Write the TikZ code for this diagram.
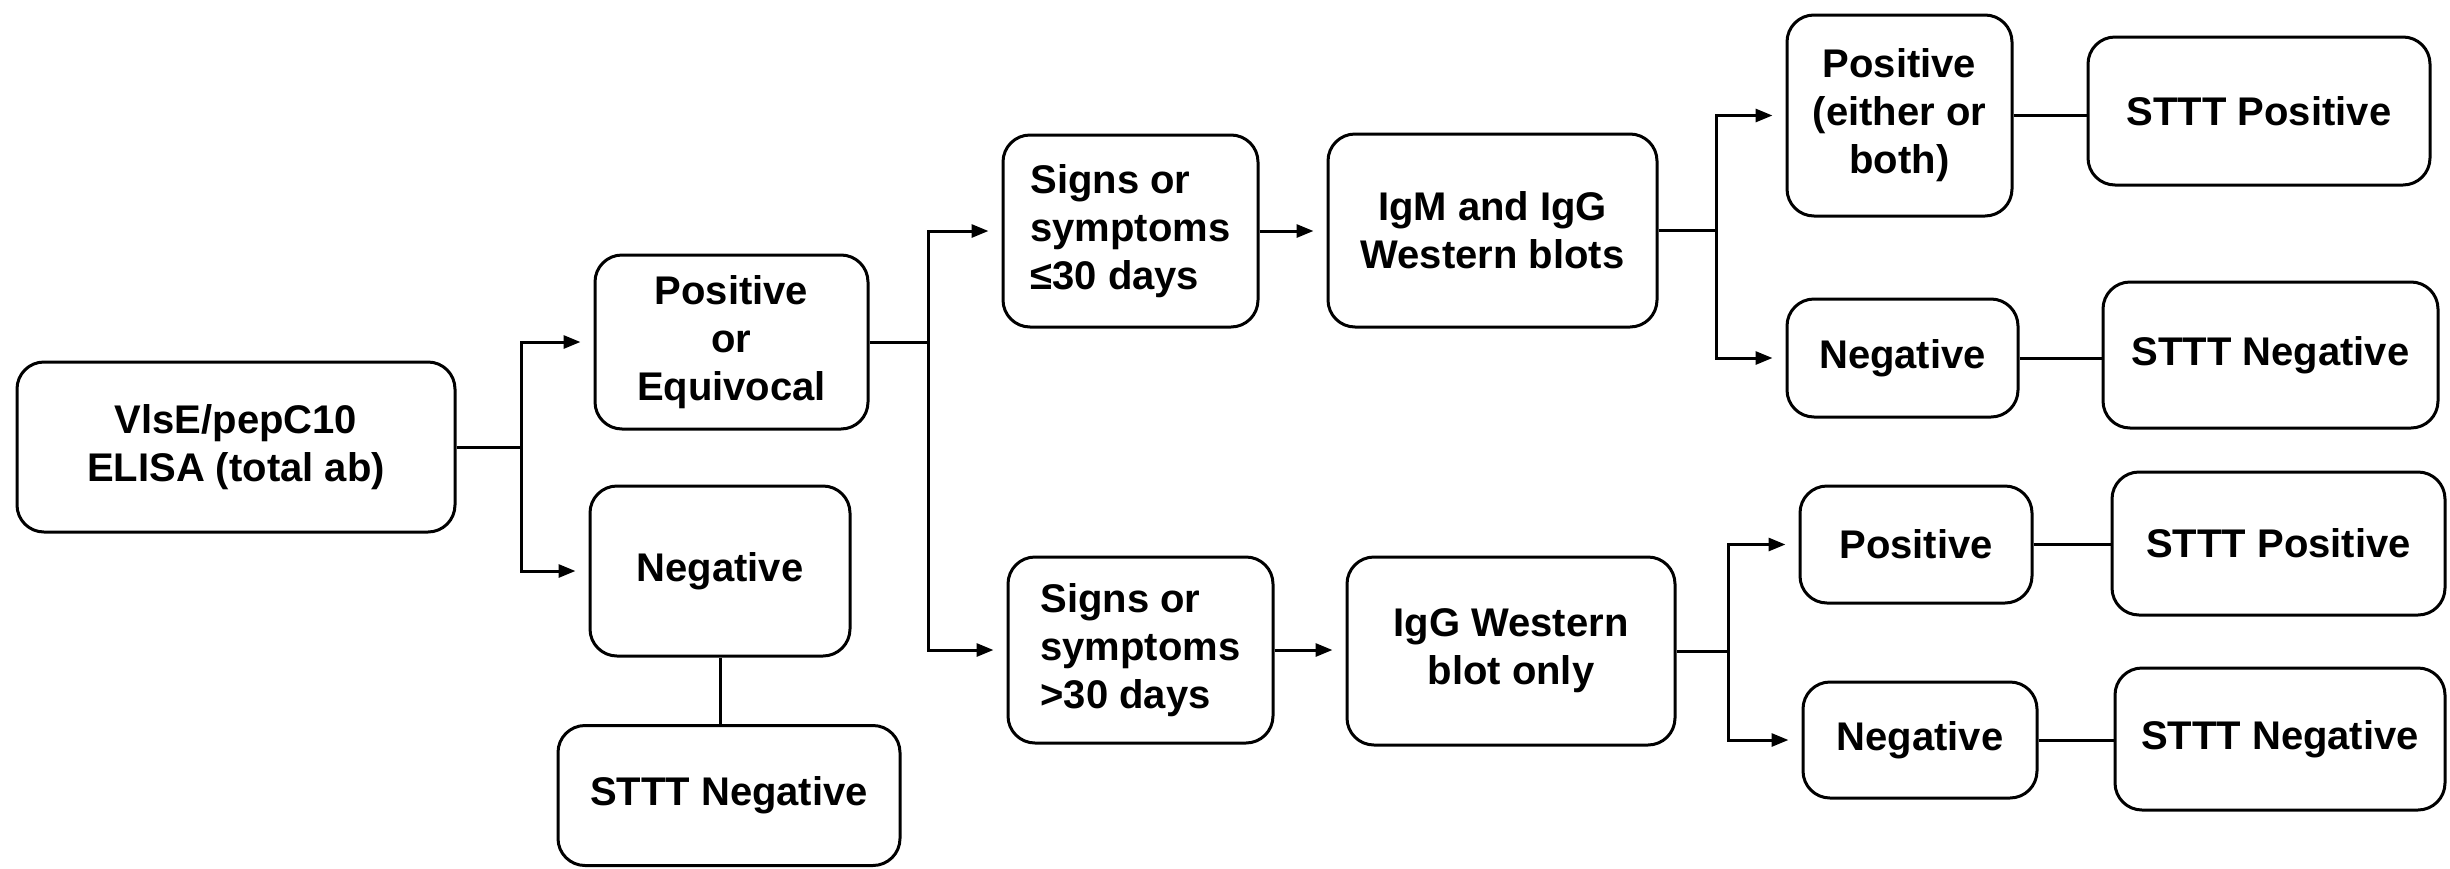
\documentclass[tikz,border=0pt]{standalone}
\usepackage{fontspec}
\setmainfont{Liberation Sans}
\usetikzlibrary{arrows.meta}
\begin{document}
\begin{tikzpicture}[x=1pt,y=-1pt,
  box/.style={draw, line width=3pt, rounded corners=27pt, align=center, inner sep=0pt,
    font=\fontsize{40}{48}\selectfont\bfseries},
  conn/.style={line width=3pt},
  arr/.style={conn, -{Triangle[length=17pt,width=13pt]}, shorten >=13pt},
]
\useasboundingbox (0,0) rectangle (2450,868);
% column 1
\node[box, minimum width=438pt, minimum height=170pt] (vlse) at (236,447) {VlsE/pepC10\\ELISA (total ab)};
% column 2
\node[box, minimum width=273pt, minimum height=174pt] (poseq) at (731.5,342) {Positive\\or\\Equivocal};
\node[box, minimum width=260pt, minimum height=170pt] (negL) at (720,571) {Negative};
\node[box, minimum width=342pt, minimum height=140pt] (sttnL) at (729,795.5) {STTT Negative};
% column 3
\node[box, align=left, minimum width=255pt, minimum height=192pt] (s30a) at (1130.5,231) {Signs or\\symptoms\\≤30 days};
\node[box, align=left, minimum width=265pt, minimum height=186pt] (s30b) at (1140.5,650) {Signs or\\symptoms\\>30 days};
% column 4
\node[box, minimum width=329pt, minimum height=193pt] (igmg) at (1492.5,230.5) {IgM and IgG\\Western blots};
\node[box, minimum width=328pt, minimum height=188pt] (iggwb) at (1511,651) {IgG Western\\blot only};
% column 5
\node[box, minimum width=225pt, minimum height=201pt] (posT) at (1899.5,115.5) {Positive\\(either or\\both)};
\node[box, minimum width=231pt, minimum height=118pt] (negT) at (1902.5,358) {Negative};
\node[box, minimum width=232pt, minimum height=117pt] (posB) at (1916,544.5) {Positive};
\node[box, minimum width=234pt, minimum height=116pt] (negB) at (1920,740) {Negative};
% column 6
\node[box, minimum width=342pt, minimum height=148pt] (sttpT) at (2259,111) {STTT Positive};
\node[box, minimum width=335pt, minimum height=146pt] (sttnT) at (2270.5,355) {STTT Negative};
\node[box, minimum width=333pt, minimum height=143pt] (sttpB) at (2278.5,543.5) {STTT Positive};
\node[box, minimum width=330pt, minimum height=142pt] (sttnB) at (2280,739) {STTT Negative};
% junction coordinates
\coordinate (j1) at (521,447);
\coordinate (j2) at (928,342);
\coordinate (j3) at (1716,230.5);
\coordinate (j4) at (1728,651);
% connectors
\draw[conn] (vlse.east) -- (j1);
\draw[arr] (j1) |- (poseq.west);
\draw[arr] (j1) |- (negL.west);
\draw[conn] (negL.south) -- (negL.south |- sttnL.north);
\draw[conn] (poseq.east) -- (j2);
\draw[arr] (j2) |- (s30a.west);
\draw[arr] (j2) |- (s30b.west);
\draw[arr] (s30a.east) -- (igmg.west |- s30a.east);
\draw[arr] (s30b.east) -- (iggwb.west |- s30b.east);
\draw[conn] (igmg.east) -- (j3);
\draw[arr] (j3) |- (posT.west);
\draw[arr] (j3) |- (negT.west);
\draw[conn] (iggwb.east) -- (j4);
\draw[arr] (j4) |- (posB.west);
\draw[arr] (j4) |- (negB.west);
\draw[conn] (posT.east) -- (sttpT.west |- posT.east);
\draw[conn] (negT.east) -- (sttnT.west |- negT.east);
\draw[conn] (posB.east) -- (sttpB.west |- posB.east);
\draw[conn] (negB.east) -- (sttnB.west |- negB.east);
\end{tikzpicture}
\end{document}
